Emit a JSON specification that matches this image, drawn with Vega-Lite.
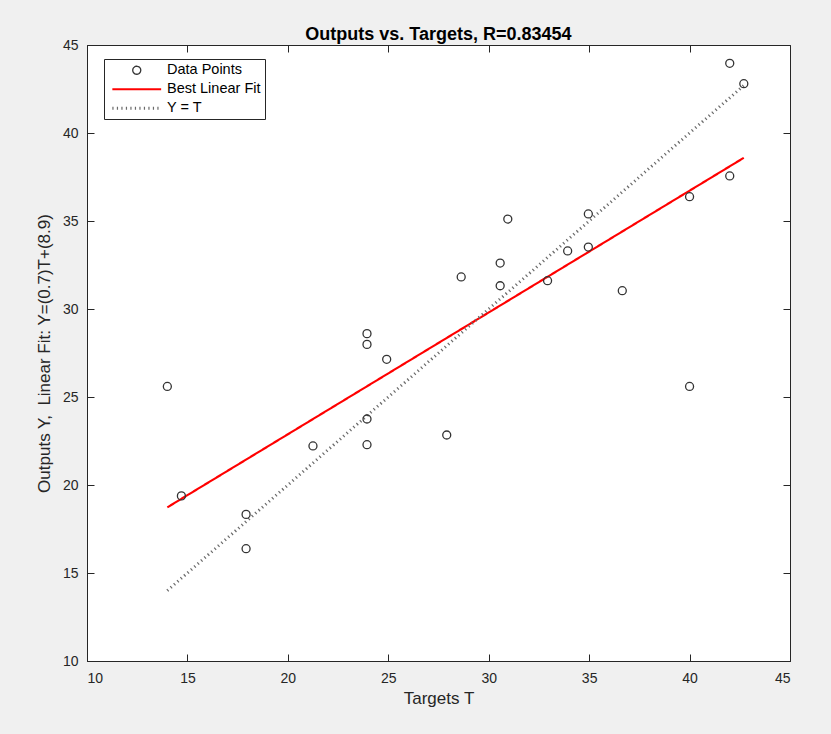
{
  "$schema": "https://vega.github.io/schema/vega-lite/v6.json",
  "width": 703,
  "height": 616,
  "autosize": {"type": "none"},
  "padding": {"left": 87, "top": 45, "right": 41, "bottom": 73},
  "background": "#f0f0f0",
  "title": {"text": "Outputs vs. Targets, R=0.83454", "fontSize": 18, "fontWeight": "bold", "font": "Liberation Sans", "color": "#000000", "offset": -6},
  "config": {
    "view": {"stroke": "#262626", "strokeWidth": 1, "fill": "white"},
    "axis": {"domainColor": "#262626", "tickColor": "#262626", "labelColor": "#262626", "titleColor": "#262626", "grid": false, "labelFont": "Liberation Sans", "titleFont": "Liberation Sans", "labelFontSize": 14, "titleFontSize": 17, "titleFontWeight": "normal", "tickSize": -7},
    "legend": {"orient": "none", "legendX": 17, "legendY": 14, "title": null, "strokeColor": "#262626", "fillColor": "white", "padding": 4, "labelFont": "Liberation Sans", "labelFontSize": 14.5, "labelColor": "#000000", "rowPadding": 4, "symbolSize": 64, "symbolOffset": 21.5, "labelOffset": 23, "cornerRadius": 0}
  },
  "datasets": {
    "points": [
      {"T": 14.0, "Y": 25.6, "series": "Data Points"},
      {"T": 14.7, "Y": 19.38, "series": "Data Points"},
      {"T": 17.92, "Y": 18.33, "series": "Data Points"},
      {"T": 17.92, "Y": 16.38, "series": "Data Points"},
      {"T": 21.25, "Y": 22.22, "series": "Data Points"},
      {"T": 23.94, "Y": 28.6, "series": "Data Points"},
      {"T": 23.94, "Y": 27.99, "series": "Data Points"},
      {"T": 24.92, "Y": 27.14, "series": "Data Points"},
      {"T": 23.94, "Y": 23.75, "series": "Data Points"},
      {"T": 23.94, "Y": 22.29, "series": "Data Points"},
      {"T": 27.91, "Y": 22.84, "series": "Data Points"},
      {"T": 28.63, "Y": 31.82, "series": "Data Points"},
      {"T": 30.95, "Y": 35.11, "series": "Data Points"},
      {"T": 30.57, "Y": 32.61, "series": "Data Points"},
      {"T": 30.57, "Y": 31.32, "series": "Data Points"},
      {"T": 32.93, "Y": 31.61, "series": "Data Points"},
      {"T": 33.93, "Y": 33.3, "series": "Data Points"},
      {"T": 34.96, "Y": 33.52, "series": "Data Points"},
      {"T": 34.96, "Y": 35.4, "series": "Data Points"},
      {"T": 36.65, "Y": 31.04, "series": "Data Points"},
      {"T": 40.0, "Y": 36.38, "series": "Data Points"},
      {"T": 40.0, "Y": 25.6, "series": "Data Points"},
      {"T": 42.0, "Y": 37.56, "series": "Data Points"},
      {"T": 42.0, "Y": 43.96, "series": "Data Points"},
      {"T": 42.7, "Y": 42.8, "series": "Data Points"}
    ],
    "fit": [
      {"T": 14.0, "Y": 18.73, "series": "Best Linear Fit"},
      {"T": 42.7, "Y": 38.59, "series": "Best Linear Fit"}
    ],
    "ident": [
      {"T": 14.0, "Y": 14.0, "series": "Y = T"},
      {"T": 42.7, "Y": 42.7, "series": "Y = T"}
    ]
  },
  "resolve": {"axis": {"x": "independent", "y": "independent"}},
  "layer": [
    {
      "data": {"name": "fit"},
      "mark": {"type": "line"},
      "encoding": {
        "x": {"field": "T", "type": "quantitative", "scale": {"domain": [10, 45], "nice": false, "zero": false}, "axis": {"orient": "bottom", "title": "Targets T", "values": [10, 15, 20, 25, 30, 35, 40, 45], "labelPadding": 17, "titlePadding": 5}},
        "y": {"field": "Y", "type": "quantitative", "scale": {"domain": [10, 45], "nice": false, "zero": false}, "axis": {"orient": "left", "title": "Outputs Y,\u00a0 Linear Fit: Y=(0.7)T+(8.9)", "values": [10, 15, 20, 25, 30, 35, 40, 45], "labelPadding": 16, "titlePadding": 9}},
        "stroke": {"field": "series", "type": "nominal", "scale": {"domain": ["Data Points", "Best Linear Fit", "Y = T"], "range": ["#333333", "#ff0000", "#6a6a6a"]}},
        "strokeWidth": {"field": "series", "type": "nominal", "scale": {"domain": ["Data Points", "Best Linear Fit", "Y = T"], "range": [1.3, 3, 0.9]}},
        "strokeDash": {"field": "series", "type": "nominal", "scale": {"domain": ["Data Points", "Best Linear Fit", "Y = T"], "range": [[1, 0], [1, 0], [1.2, 3.3]]}}
      }
    },
    {
      "data": {"name": "ident"},
      "mark": {"type": "line"},
      "encoding": {
        "x": {"field": "T", "type": "quantitative", "scale": {"domain": [10, 45], "nice": false, "zero": false}, "axis": {"orient": "top", "title": null, "labels": false, "domain": false, "values": [10, 15, 20, 25, 30, 35, 40, 45]}},
        "y": {"field": "Y", "type": "quantitative", "scale": {"domain": [10, 45], "nice": false, "zero": false}, "axis": {"orient": "right", "title": null, "labels": false, "domain": false, "values": [10, 15, 20, 25, 30, 35, 40, 45]}},
        "stroke": {"field": "series", "type": "nominal"},
        "strokeWidth": {"field": "series", "type": "nominal"},
        "strokeDash": {"field": "series", "type": "nominal"}
      }
    },
    {
      "data": {"name": "points"},
      "mark": {"type": "point", "filled": false, "strokeWidth": 1.3, "opacity": 1, "size": 64},
      "encoding": {
        "x": {"field": "T", "type": "quantitative", "axis": null},
        "y": {"field": "Y", "type": "quantitative", "axis": null},
        "stroke": {"field": "series", "type": "nominal"},
        "shape": {"field": "series", "type": "nominal", "scale": {"domain": ["Data Points", "Best Linear Fit", "Y = T"], "range": ["circle", "M-6.1,0H6.1", "M-6.1,0H6.1"]}}
      }
    }
  ]
}
